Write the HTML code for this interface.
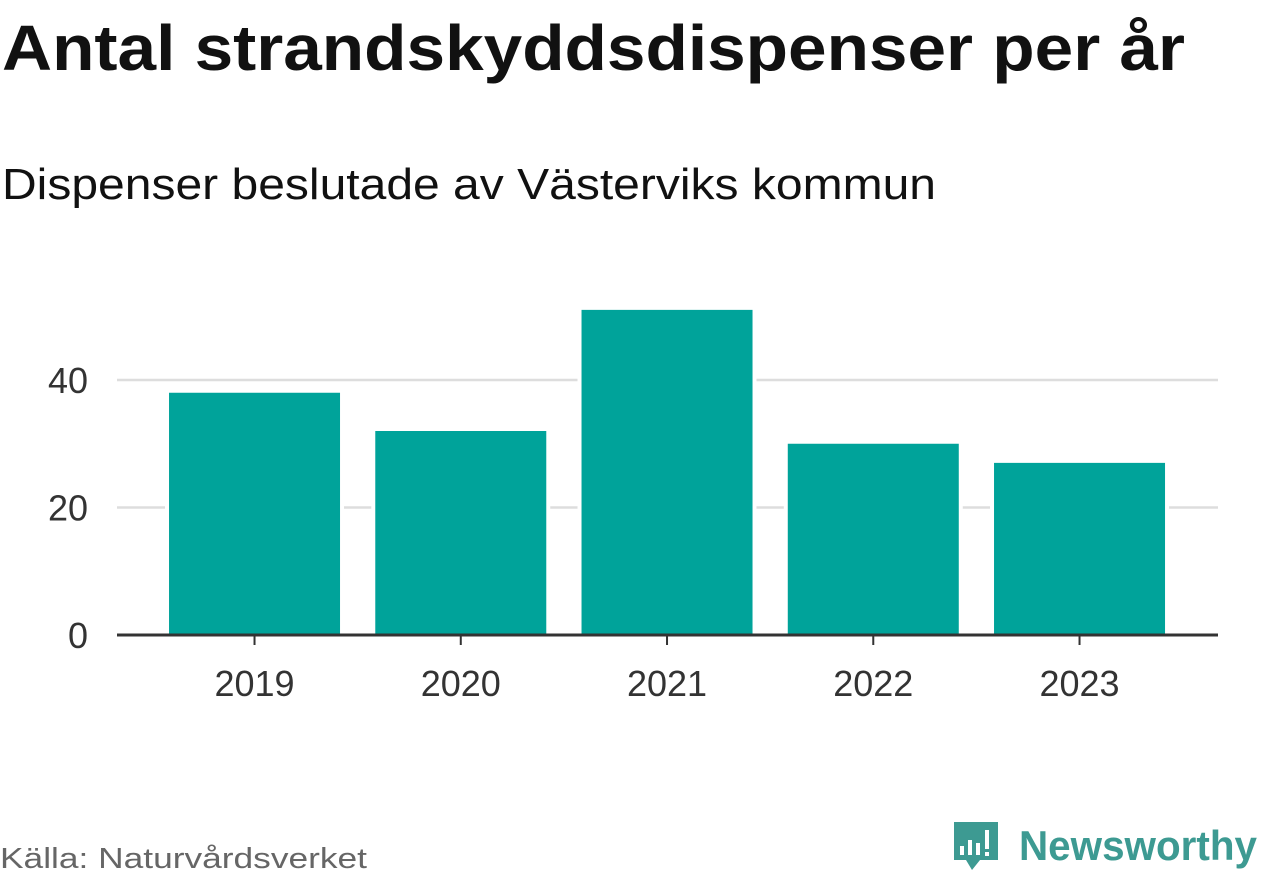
<!DOCTYPE html>
<html><head><meta charset="utf-8"><style>
html,body{margin:0;padding:0;background:#fff;width:1262px;height:879px;overflow:hidden}
svg{display:block;font-family:"Liberation Sans","DejaVu Sans",sans-serif}
</style></head><body>
<svg id="c" width="1262" height="879">
<text x="2" y="70" font-size="64" font-weight="bold" fill="#111" textLength="1183" lengthAdjust="spacingAndGlyphs">Antal strandskyddsdispenser per år</text>
<text x="2" y="199" font-size="44" fill="#111" textLength="934" lengthAdjust="spacingAndGlyphs">Dispenser beslutade av Västerviks kommun</text>
<g id="grid"></g><g id="bars"></g><g id="axes"></g>
<text x="0" y="868" font-size="29" fill="#666" textLength="367" lengthAdjust="spacingAndGlyphs">Källa: Naturvårdsverket</text>
<g>
<path d="M954 822 h44 v38 h-18 l-8 10 l-6 -10 h-12 z" fill="#3d9a92"/>
<rect x="960" y="846" width="4" height="9" fill="#fff"/><rect x="968" y="840" width="4" height="15" fill="#fff"/><rect x="976" y="843" width="4" height="12" fill="#fff"/><rect x="985" y="830" width="4" height="19" fill="#fff"/><rect x="985" y="852" width="4" height="4" fill="#fff"/>
<text x="1019" y="860" font-size="42" font-weight="bold" fill="#3d9a92" textLength="238" lengthAdjust="spacingAndGlyphs">Newsworthy</text>
</g>
</svg>
<script>
const categories=["2019","2020","2021","2022","2023"];
const values=[38,32,51,30,27];
const yTicks=[0,20,40];
const NS="http://www.w3.org/2000/svg";
const y0=635,pxPerUnit=6.375,xStart=151.4,step=206.25,bw=171;
function y(v){return y0-v*pxPerUnit;}
function xc(i){return xStart+step*(i+0.5);}
function mk(tag,attrs,parent){const e=document.createElementNS(NS,tag);for(const k in attrs)e.setAttribute(k,attrs[k]);document.getElementById(parent).appendChild(e);return e;}
yTicks.forEach(t=>{
  if(t>0){const g=mk("line",{x1:117,x2:1218,y1:y(t),y2:y(t),stroke:"#ddd","stroke-width":2.5},"grid");
  
  }
  const l=mk("text",{x:88,y:y(t)+13,"font-size":36,fill:"#333","text-anchor":"end"},"axes");
  l.textContent=t;
  
  
});
values.forEach((v,i)=>{
  const r=mk("rect",{x:xc(i)-bw/2,y:y(v),width:bw,height:y0-y(v),fill:"#00a39a",stroke:"#fff","stroke-width":8,"paint-order":"stroke"},"bars");
  
  
  const tk=mk("line",{x1:xc(i),x2:xc(i),y1:y0,y2:y0+10,stroke:"#333","stroke-width":2},"axes");
  
  
  const t=mk("text",{x:xc(i),y:696,"font-size":36,fill:"#333","text-anchor":"middle"},"axes");
  t.textContent=categories[i];
  
  
});
const ax=mk("line",{x1:117,x2:1218,y1:y0,y2:y0,stroke:"#333","stroke-width":3},"axes");


</script>
</body></html>
